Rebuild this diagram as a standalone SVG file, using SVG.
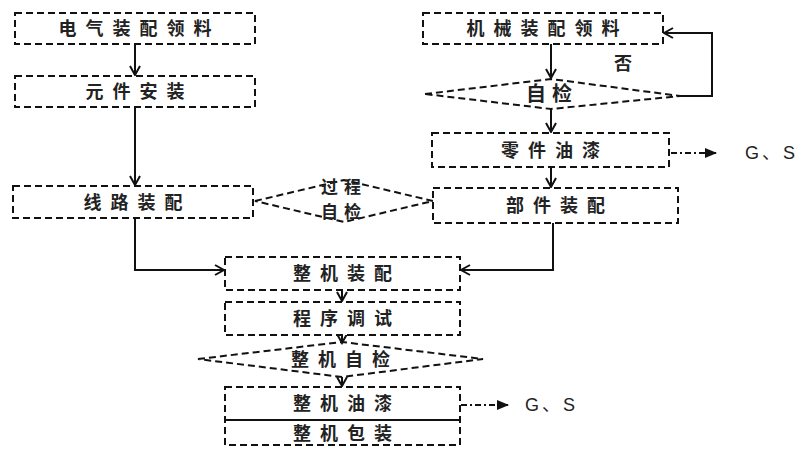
<svg xmlns="http://www.w3.org/2000/svg" width="806" height="453" viewBox="0 0 806 453">
<defs>
<style>
.box{fill:#fff;stroke:#111;stroke-width:2;stroke-dasharray:7 4}
.dia{fill:none;stroke:#111;stroke-width:2;stroke-dasharray:7 4}
.ln{fill:none;stroke:#111;stroke-width:2}
.dd{fill:none;stroke:#111;stroke-width:2;stroke-dasharray:6 3 2 3}
.t{font-family:"Noto Sans CJK SC","Noto Sans CJK JP",sans-serif;font-weight:bold;font-size:18px;fill:#222;text-anchor:middle;letter-spacing:9px}
.t2{font-family:"Noto Sans CJK SC","Noto Sans CJK JP",sans-serif;font-weight:bold;font-size:20px;fill:#222;text-anchor:middle;letter-spacing:6px}
.t3{font-family:"Noto Sans CJK SC","Noto Sans CJK JP",sans-serif;font-weight:bold;font-size:17px;fill:#222;text-anchor:middle;letter-spacing:6px}
.gs{font-family:"Liberation Sans","Noto Sans CJK SC",sans-serif;font-size:18px;fill:#222;letter-spacing:3px}
</style>
<marker id="ah" markerUnits="userSpaceOnUse" viewBox="0 0 12 12" markerWidth="12" markerHeight="12" refX="10" refY="6" orient="auto">
<path d="M1,1 L10,6 L1,11" fill="none" stroke="#111" stroke-width="2"/>
</marker>
<marker id="tri" markerUnits="userSpaceOnUse" viewBox="0 0 12 10" markerWidth="12" markerHeight="10" refX="11" refY="5" orient="auto">
<path d="M0,0 L12,5 L0,10 Z" fill="#111"/>
</marker>
</defs>
<rect width="806" height="453" fill="#fff"/>

<g id="connectors">
<line class="ln" x1="135" y1="44" x2="135" y2="75" marker-end="url(#ah)"/>
<line class="ln" x1="135" y1="107" x2="135" y2="185" marker-end="url(#ah)"/>
<line class="ln" x1="551" y1="44" x2="551" y2="78" marker-end="url(#ah)"/>
<polyline class="ln" points="680,96 712,96 712,33 664,33" marker-end="url(#ah)"/>
<line class="ln" x1="551" y1="109" x2="551" y2="132" marker-end="url(#ah)"/>
<line class="ln" x1="551" y1="167" x2="551" y2="187" marker-end="url(#ah)"/>
<line class="dd" x1="671" y1="153" x2="716" y2="153" marker-end="url(#tri)"/>
<polyline class="ln" points="135,218 135,270 224,270" marker-end="url(#ah)"/>
<polyline class="ln" points="553,223 553,270 461,270" marker-end="url(#ah)"/>
<line class="ln" x1="342" y1="290" x2="342" y2="301" marker-end="url(#ah)"/>
<line class="ln" x1="342" y1="335" x2="342" y2="343" marker-end="url(#ah)"/>
<line class="ln" x1="342" y1="377" x2="342" y2="386" marker-end="url(#ah)"/>
<line class="dd" x1="461" y1="405" x2="508" y2="405" marker-end="url(#tri)"/>
</g>

<g id="n-dianqi"><rect class="box" x="15" y="13" width="240" height="31"/><text class="t" x="139.5" y="35">电气装配领料</text></g>
<g id="n-yuanjian"><rect class="box" x="15" y="76" width="240" height="31"/><text class="t" x="139.5" y="98">元件安装</text></g>
<g id="n-xianlu"><rect class="box" x="13" y="186" width="240" height="32"/><text class="t" x="137.5" y="209">线路装配</text></g>
<g id="n-guocheng"><polygon class="dia" points="255,201 344,180 433,201 344,222"/><text class="t3" x="344" y="193">过程</text><text class="t3" x="344" y="218">自检</text></g>
<g id="n-jixie"><rect class="box" x="423" y="13" width="240" height="31"/><text class="t" x="547.5" y="35">机械装配领料</text></g>
<g id="n-zijian"><polygon class="dia" points="425,94 551,79 680,96 551,109"/><text class="t2" x="552" y="101">自检</text></g>
<text class="t" x="623" y="70" style="letter-spacing:0">否</text>
<g id="n-lingjian"><rect class="box" x="432" y="133" width="237" height="34"/><text class="t" x="555" y="157">零件油漆</text></g>
<text class="gs" x="745" y="159">G、S</text>
<g id="n-bujian"><rect class="box" x="433" y="188" width="245" height="35"/><text class="t" x="560" y="212">部件装配</text></g>
<g id="n-zhengji"><rect class="box" x="225" y="257" width="235" height="33"/><text class="t" x="347" y="280">整机装配</text></g>
<g id="n-chengxu"><rect class="box" x="225" y="302" width="235" height="33"/><text class="t" x="347" y="325">程序调试</text></g>
<g id="n-zjzijian"><polygon class="dia" points="198,359 342,342 483,359 342,377"/><text class="t" x="345" y="366">整机自检</text></g>
<g id="n-youqi"><rect class="box" x="225" y="387" width="235" height="58"/><line class="ln" x1="225" y1="420" x2="460" y2="420"/><text class="t" x="347" y="410">整机油漆</text><text class="t" x="347" y="440">整机包装</text></g>
<text class="gs" x="525" y="411">G、S</text>
</svg>
